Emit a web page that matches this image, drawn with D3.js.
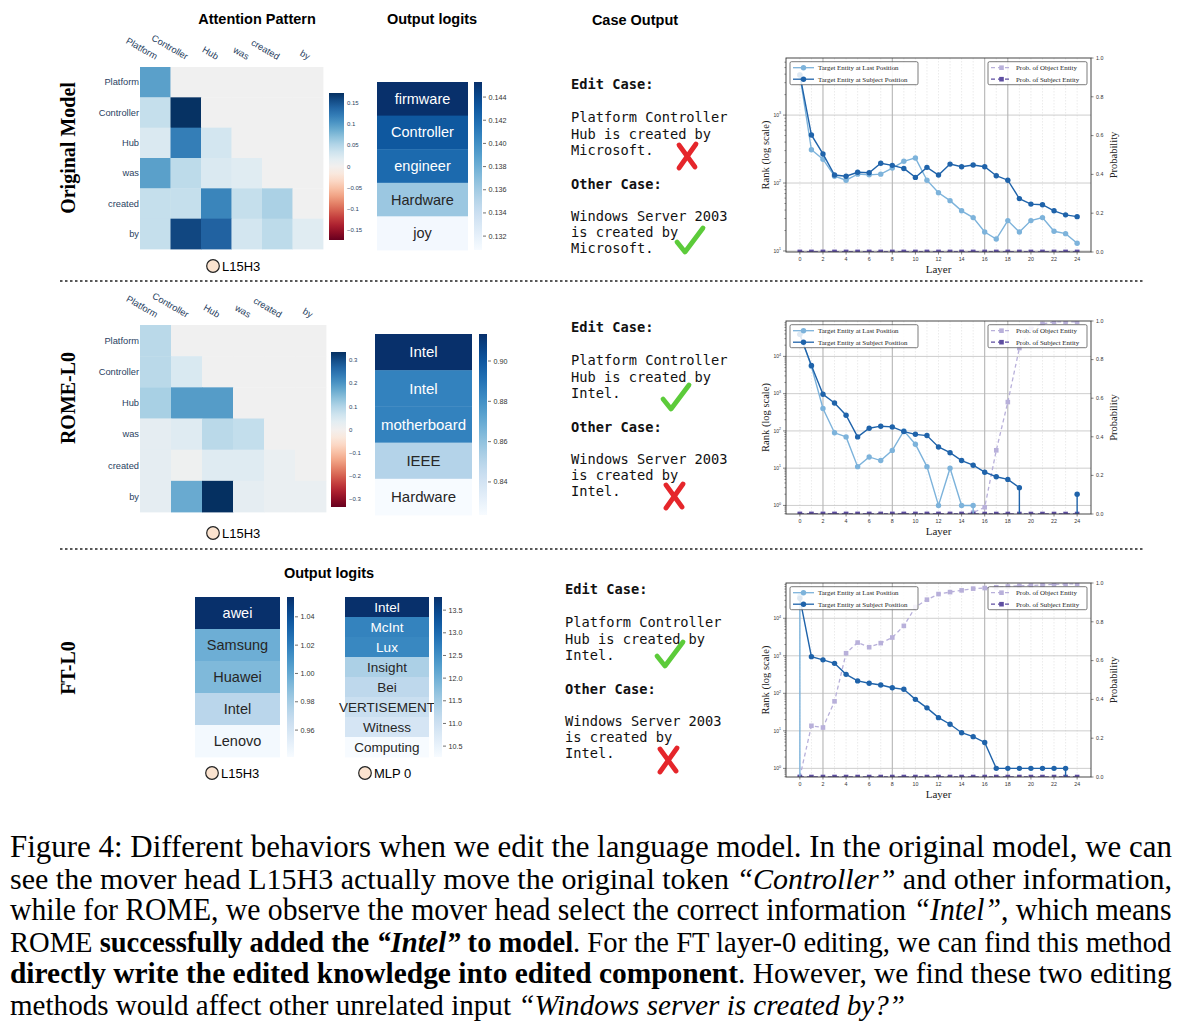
<!DOCTYPE html>
<html>
<head>
<meta charset="utf-8">
<script src="https://cdn.jsdelivr.net/npm/d3@7"></script>
<style>
  body { margin: 0; background: #fff; }
  svg { display: block; }
  text { white-space: pre; }
</style>
</head>
<body>
<div id="fig"></div>
<script>
// ---- data ----
const tokens = ['Platform', 'Controller', 'Hub', 'was', 'created', 'by'];

// lower-triangular attention patterns of L15H3 (row = query, col = key)
const attnOriginal = [
  [0.095],
  [0.04, 0.172],
  [0.025, 0.12, 0.03],
  [0.095, 0.045, 0.025, 0.02],
  [0.04, 0.04, 0.115, 0.04, 0.055],
  [0.04, 0.158, 0.14, 0.03, 0.045, 0.02]
];
const attnOriginalTicks = [0.15, 0.1, 0.05, 0, -0.05, -0.1, -0.15];
const attnRome = [
  [0.09],
  [0.09, 0.05],
  [0.11, 0.19, 0.19],
  [0.03, 0.04, 0.09, 0.08],
  [0.03, 0.01, 0.04, 0.04, 0.02],
  [0.03, 0.17, 0.336, 0.03, 0.02, 0.02]
];
const attnRomeTicks = [0.3, 0.2, 0.1, 0, -0.1, -0.2, -0.3];

const logitsOrigLabels = ['firmware', 'Controller', 'engineer', 'Hardware', 'joy'];
const logitsOrigValues = [0.1453, 0.1431, 0.1421, 0.1363, 0.1311];
const logitsOrigTicks = [0.144, 0.142, 0.140, 0.138, 0.136, 0.134, 0.132];

const logitsRomeLabels = ['Intel', 'Intel', 'motherboard', 'IEEE', 'Hardware'];
const logitsRomeValues = [0.9134, 0.885, 0.885, 0.851, 0.8236];
const logitsRomeTicks = [0.90, 0.88, 0.86, 0.84];

const logitsFtHeadLabels = ['awei', 'Samsung', 'Huawei', 'Intel', 'Lenovo'];
const logitsFtHeadValues = [1.054, 0.9975, 0.992, 0.973, 0.943];
const logitsFtHeadTicks = [1.04, 1.02, 1.00, 0.98, 0.96];

const logitsFtMlpLabels = ['Intel', 'McInt', 'Lux', 'Insight', 'Bei', 'VERTISEMENT', 'Witness', 'Computing'];
const logitsFtMlpValues = [13.79, 12.66, 12.59, 11.42, 11.21, 11.04, 10.86, 10.26];
const logitsFtMlpTicks = [13.5, 13.0, 12.5, 12.0, 11.5, 11.0, 10.5];

const layers = [0, 1, 2, 3, 4, 5, 6, 7, 8, 9, 10, 11, 12, 13, 14, 15, 16, 17, 18, 19, 20, 21, 22, 23, 24];
const layerTicks = [0, 2, 4, 6, 8, 10, 12, 14, 16, 18, 20, 22, 24];
const probTicks = [0, 0.2, 0.4, 0.6, 0.8, 1.0];

// rank of target entity (0 = below the log axis)
const origLastRank = [3890, 309, 224, 126, 110, 135, 132, 135, 166, 209, 234, 110, 72, 55, 39, 31, 19, 15, 28, 19, 28, 31, 19.5, 18, 13];
const origSubjRank = [3900, 510, 268, 131, 126, 144, 142, 195, 182, 164, 121, 170, 131, 190, 174, 184, 174, 128, 110, 59, 49, 48, 39, 34, 32];
const origObjProb = [0, 0, 0, 0, 0, 0, 0, 0, 0, 0, 0, 0, 0, 0, 0, 0, 0, 0, 0, 0, 0, 0, 0, 0, 0];
const origSubjProb = [0, 0, 0, 0, 0, 0, 0, 0, 0, 0, 0, 0, 0, 0, 0, 0, 0, 0, 0, 0, 0, 0, 0, 0, 0];

const romeLastRank = [39000, 5400, 400, 89, 69, 11, 20, 16, 30, 100, 44, 11, 1, 10, 1, 1, 0, 0, 0, 0, 0, 0, 0, 0, 0];
const romeSubjRank = [39000, 5700, 960, 560, 264, 69, 118, 134, 128, 96, 81, 75, 37, 26, 16, 12, 7.8, 5.9, 5, 3, 0, 0, 0, 0, 2];
const romeObjProb = [0, 0, 0, 0, 0, 0, 0, 0, 0, 0, 0, 0, 0, 0, 0, 0.007, 0.035, 0.33, 0.58, 0.86, 0.96, 0.985, 0.995, 0.995, 0.995];
const romeSubjProb = [0, 0, 0, 0, 0, 0, 0, 0, 0, 0, 0, 0, 0, 0, 0, 0, 0, 0, 0, 0, 0, 0, 0, 0, 0];

const ftLastRank = [38000, 0, 0, 0, 0, 0, 0, 0, 0, 0, 0, 0, 0, 0, 0, 0, 0, 0, 0, 0, 0, 0, 0, 0, 0];
const ftSubjRank = [34000, 950, 780, 630, 320, 214, 185, 167, 141, 128, 69, 41, 22.5, 15, 8.9, 7, 4.9, 1, 1, 1, 1, 1, 1, 1, 0];
const ftObjProb = [0, 0.264, 0.255, 0.39, 0.638, 0.693, 0.669, 0.69, 0.719, 0.779, 0.876, 0.914, 0.943, 0.953, 0.962, 0.971, 0.974, 0.978, 0.982, 0.985, 0.987, 0.99, 0.993, 0.995, 0.996];
const ftSubjProb = [0, 0, 0, 0, 0, 0, 0, 0, 0, 0, 0, 0, 0, 0, 0, 0, 0, 0, 0, 0, 0, 0, 0, 0, 0];

const legendRank = ['Target Entity at Last Position', 'Target Entity at Subject Position'];
const legendProb = ['Prob. of Object Entity', 'Prob. of Subject Entity'];

const caseOriginal = ['Platform Controller', 'Hub is created by', 'Microsoft.', 'Windows Server 2003', 'is created by', 'Microsoft.'];
const caseRome = ['Platform Controller', 'Hub is created by', 'Intel.', 'Windows Server 2003', 'is created by', 'Intel.'];
const caseFt = ['Platform Controller', 'Hub is created by', 'Intel.', 'Windows Server 2003', 'is created by', 'Intel.'];

const captionLines = [
  [['Figure 4: Different behaviors when we edit the language model. In the original model, we can', '']],
  [['see the mover head L15H3 actually move the original token ', ''], ['\u201cController\u201d', 'i'], [' and other information,', '']],
  [['while for ROME, we observe the mover head select the correct information ', ''], ['\u201cIntel\u201d', 'i'], [', which means', '']],
  [['ROME ', ''], ['successfully added the ', 'b'], ['\u201cIntel\u201d', 'bi'], [' to model', 'b'], ['. For the FT layer-0 editing, we can find this method', '']],
  [['directly write the edited knowledge into edited component', 'b'], ['. However, we find these two editing', '']],
  [['methods would affect other unrelated input ', ''], ['\u201cWindows server is created by?\u201d', 'i']]
];

// ---- styles ----
const sans = "'Liberation Sans', Arial, Helvetica, sans-serif";
const serif = "'Liberation Serif', 'Times New Roman', serif";
const mono = "'DejaVu Sans Mono', monospace";
const plotlyText = '#2a3f5f';
const lightBlue = '#7db3db',
  darkBlue = '#1f63aa',
  lightPurple = '#b8b0da',
  darkPurple = '#5e4ea1';

const svg = d3.select('#fig').append('svg')
  .attr('width', 1200)
  .attr('height', 1032);
svg.append('rect').attr('width', 1200).attr('height', 1032).attr('fill', '#fff');
const defs = svg.append('defs');
let gradId = 0;

function vGradient(interp) {
  const id = 'grad' + (gradId++);
  const lg = defs.append('linearGradient').attr('id', id)
    .attr('x1', 0).attr('y1', 1).attr('x2', 0).attr('y2', 0);
  d3.range(0, 1.0001, 0.05).forEach(t => {
    lg.append('stop').attr('offset', t).attr('stop-color', interp(t));
  });
  return 'url(#' + id + ')';
}

// ---- section titles ----
function title(x, y, txt) {
  svg.append('text').attr('x', x).attr('y', y).attr('text-anchor', 'middle')
    .attr('font-family', sans).attr('font-weight', 'bold').attr('font-size', 14.5)
    .attr('fill', '#000').text(txt);
}
title(257, 24, 'Attention Pattern');
title(432, 24, 'Output logits');
title(635, 25, 'Case Output');
title(329, 578, 'Output logits');

function rowTitle(cx, cy, txt) {
  svg.append('text')
    .attr('transform', 'translate(' + cx + ',' + cy + ') rotate(-90)')
    .attr('text-anchor', 'middle').attr('dy', '0.35em')
    .attr('font-family', serif).attr('font-weight', 'bold').attr('font-size', 20)
    .text(txt);
}
rowTitle(68, 148, 'Original Model');
rowTitle(68, 398, 'ROME-L0');
rowTitle(68, 668, 'FT-L0');

[281, 549].forEach(y => {
  svg.append('line').attr('x1', 60).attr('x2', 1145).attr('y1', y).attr('y2', y)
    .attr('stroke', '#222').attr('stroke-width', 1.5).attr('stroke-dasharray', '2.5,2.5');
});

// ---- attention heatmaps ----
function drawAttention(opt) {
  const g = svg.append('g');
  const xs = d3.scaleBand().domain(tokens).range([opt.x, opt.x + opt.w]);
  const ys = d3.scaleBand().domain(tokens).range([opt.y, opt.y + opt.h]);
  const col = v => d3.interpolateRdBu((v + opt.max) / (2 * opt.max));
  const cells = [];
  tokens.forEach((r, i) => tokens.forEach((c, j) => {
    cells.push({ r: r, c: c, v: j <= i ? opt.data[i][j] : null });
  }));
  g.selectAll('rect.cell').data(cells).join('rect')
    .attr('x', d => xs(d.c)).attr('y', d => ys(d.r))
    .attr('width', xs.bandwidth() + 0.4).attr('height', ys.bandwidth() + 0.4)
    .attr('fill', d => d.v === null ? '#f0f0f0' : col(d.v));

  g.selectAll('text.row').data(tokens).join('text')
    .attr('x', opt.x - 1).attr('y', d => ys(d) + ys.bandwidth() / 2)
    .attr('dy', '0.35em').attr('text-anchor', 'end')
    .attr('font-family', sans).attr('font-size', 9.3).attr('fill', plotlyText)
    .text(d => d);
  g.selectAll('text.col').data(tokens).join('text')
    .attr('transform', d => 'translate(' + (xs(d) + xs.bandwidth() / 2) + ',' + (opt.y - 7) + ') rotate(30)')
    .attr('text-anchor', 'end')
    .attr('font-family', sans).attr('font-size', 9.3).attr('fill', plotlyText)
    .text(d => d);

  // colorbar
  const cb = opt.cb;
  const cs = d3.scaleLinear().domain([-opt.max, opt.max]).range([cb.y + cb.h, cb.y]);
  g.append('rect').attr('x', cb.x).attr('y', cb.y).attr('width', cb.w).attr('height', cb.h)
    .attr('fill', vGradient(d3.interpolateRdBu));
  g.selectAll('text.cbt').data(opt.ticks).join('text')
    .attr('x', cb.x + cb.w + 3).attr('y', d => cs(d)).attr('dy', '0.35em')
    .attr('font-family', sans).attr('font-size', 6).attr('fill', plotlyText)
    .text(d => d3.format('~g')(d).replace('-', '\u2212'));
}

drawAttention({ x: 140, y: 67, w: 183, h: 182, data: attnOriginal, max: 0.173,
  cb: { x: 329, y: 93, w: 15, h: 147 }, ticks: attnOriginalTicks });
drawAttention({ x: 140, y: 325, w: 186, h: 187, data: attnRome, max: 0.336,
  cb: { x: 331, y: 352, w: 15, h: 155 }, ticks: attnRomeTicks });

// ---- output logits ----
function drawLogits(opt) {
  const g = svg.append('g');
  const idx = opt.labels.map((d, i) => i);
  const ys = d3.scaleBand().domain(idx).range([opt.y, opt.y + opt.h]);
  const ct = d3.scaleLinear().domain([opt.vmin, opt.vmax]).range([0, 1]).clamp(true);
  const col = v => d3.interpolateBlues(ct(v));
  g.selectAll('rect.cell').data(idx).join('rect')
    .attr('x', opt.x).attr('y', i => ys(i))
    .attr('width', opt.w).attr('height', ys.bandwidth() + 0.4)
    .attr('fill', i => col(opt.values[i]));
  g.selectAll('text.lab').data(idx).join('text')
    .attr('x', opt.x + opt.w / 2).attr('y', i => ys(i) + ys.bandwidth() / 2)
    .attr('dy', '0.35em').attr('text-anchor', 'middle')
    .attr('font-family', sans).attr('font-size', opt.fs)
    .attr('fill', i => d3.lab(col(opt.values[i])).l < 60 ? '#fff' : '#262626')
    .text(i => opt.labels[i]);

  const cs = d3.scaleLinear().domain([opt.vmin, opt.vmax]).range([opt.y + opt.h, opt.y]);
  g.append('rect').attr('x', opt.cbx).attr('y', opt.y).attr('width', opt.cbw).attr('height', opt.h)
    .attr('fill', vGradient(d3.interpolateBlues));
  const t = g.selectAll('g.tick').data(opt.ticks).join('g')
    .attr('transform', d => 'translate(' + (opt.cbx + opt.cbw) + ',' + cs(d) + ')');
  t.append('line').attr('x1', 1).attr('x2', 4).attr('stroke', '#333').attr('stroke-width', 0.7);
  t.append('text').attr('x', 6.5).attr('dy', '0.35em')
    .attr('font-family', sans).attr('font-size', 7.2).attr('fill', '#333')
    .text(d => d3.format(opt.fmt)(d));
}

drawLogits({ x: 377, y: 82, w: 91, h: 168, labels: logitsOrigLabels, values: logitsOrigValues,
  vmin: 0.1308, vmax: 0.1453, cbx: 474, cbw: 8, ticks: logitsOrigTicks, fmt: '.3f', fs: 14.5 });
drawLogits({ x: 375, y: 334, w: 97, h: 181, labels: logitsRomeLabels, values: logitsRomeValues,
  vmin: 0.8236, vmax: 0.9134, cbx: 479, cbw: 8, ticks: logitsRomeTicks, fmt: '.2f', fs: 15 });
drawLogits({ x: 195, y: 597, w: 85, h: 160, labels: logitsFtHeadLabels, values: logitsFtHeadValues,
  vmin: 0.941, vmax: 1.054, cbx: 287, cbw: 7, ticks: logitsFtHeadTicks, fmt: '.2f', fs: 14.5 });
drawLogits({ x: 345, y: 597, w: 84, h: 160, labels: logitsFtMlpLabels, values: logitsFtMlpValues,
  vmin: 10.26, vmax: 13.79, cbx: 434, cbw: 8, ticks: logitsFtMlpTicks, fmt: '.1f', fs: 13.5 });

// component tags
function tag(cx, cy, txt) {
  svg.append('circle').attr('cx', cx).attr('cy', cy).attr('r', 6.3)
    .attr('fill', '#fbe3cf').attr('stroke', '#222').attr('stroke-width', 1.2);
  svg.append('text').attr('x', cx + 9).attr('y', cy).attr('dy', '0.36em')
    .attr('font-family', sans).attr('font-size', 13).text(txt);
}
tag(213, 266, 'L15H3');
tag(213, 533, 'L15H3');
tag(212, 773, 'L15H3');
tag(365, 773, 'MLP 0');

// ---- case output ----
function caseBlock(x, y0, lines) {
  const g = svg.append('g').attr('font-family', mono).attr('font-size', 13.7).attr('fill', '#111');
  g.append('text').attr('x', x).attr('y', y0 + 5).attr('font-weight', 'bold').text('Edit Case:');
  [33, 49.5, 66].forEach((dy, i) => g.append('text').attr('x', x).attr('y', y0 + 5 + dy).text(lines[i]));
  g.append('text').attr('x', x).attr('y', y0 + 105).attr('font-weight', 'bold').text('Other Case:');
  [131.5, 147.5, 164].forEach((dy, i) => g.append('text').attr('x', x).attr('y', y0 + 5 + dy).text(lines[i + 3]));
}
caseBlock(571, 84, caseOriginal);
caseBlock(571, 327, caseRome);
caseBlock(565, 589, caseFt);

function cross(cx, cy) {
  const g = svg.append('g').attr('transform', 'translate(' + cx + ',' + cy + ')')
    .attr('stroke', '#e5262b').attr('stroke-width', 4.8).attr('stroke-linecap', 'round');
  g.append('line').attr('x1', -8).attr('y1', -11).attr('x2', 8).attr('y2', 11);
  g.append('line').attr('x1', 9).attr('y1', -12).attr('x2', -8).attr('y2', 12);
}
function check(cx, cy) {
  svg.append('path')
    .attr('d', 'M' + (cx - 13) + ',' + (cy + 2) + 'L' + (cx - 5) + ',' + (cy + 12) + 'L' + (cx + 13) + ',' + (cy - 12))
    .attr('fill', 'none').attr('stroke', '#5ccb3a').attr('stroke-width', 4.8)
    .attr('stroke-linecap', 'round').attr('stroke-linejoin', 'round');
}
cross(687, 156);
check(690, 240);
check(676, 397);
cross(674, 496);
check(670, 654);
cross(668, 760);

// ---- rank / probability line charts ----
const x = d3.scaleLinear().domain([-1.2, 25.2]).range([786, 1091]);
const markLayers = [2, 8, 16, 18];
let clipId = 0;

function drawRankChart(opt) {
  const top = opt.top, bottom = opt.bottom, left = 786, right = 1091;
  const g = svg.append('g');
  const y = d3.scaleLog().domain(opt.yDomain).range([bottom, top]);
  const p = d3.scaleLinear().domain([0, 1]).range([bottom, top]);
  const yv = v => v > 0 ? y(v) : bottom + 1e5;
  const cid = 'clip' + (clipId++);
  defs.append('clipPath').attr('id', cid).append('rect')
    .attr('x', left).attr('y', top).attr('width', right - left).attr('height', bottom - top);

  // grid
  const grid = g.append('g');
  grid.selectAll('line.vg').data(layers).join('line')
    .attr('x1', d => x(d)).attr('x2', d => x(d)).attr('y1', top).attr('y2', bottom)
    .attr('stroke', d => markLayers.includes(d) ? '#8a8a8a' : '#d6d6d6')
    .attr('stroke-width', d => markLayers.includes(d) ? 0.7 : 0.5)
    .attr('stroke-dasharray', d => markLayers.includes(d) ? null : '1.5,1.5');
  grid.selectAll('line.hg').data(opt.decades).join('line')
    .attr('x1', left).attr('x2', right).attr('y1', d => y(Math.pow(10, d))).attr('y2', d => y(Math.pow(10, d)))
    .attr('stroke', '#b8b8b8').attr('stroke-width', 0.7);

  const plot = g.append('g').attr('clip-path', 'url(#' + cid + ')');
  const rankLine = d3.line().x((d, i) => x(layers[i])).y(d => yv(d));
  const probLine = d3.line().x((d, i) => x(layers[i])).y(d => p(d));

  // probabilities (right axis)
  [[opt.objProb, lightPurple], [opt.subjProb, darkPurple]].forEach(([vals, c]) => {
    plot.append('path').attr('d', probLine(vals)).attr('fill', 'none')
      .attr('stroke', c).attr('stroke-width', 1.3).attr('stroke-dasharray', '4,3');
    plot.selectAll(null).data(vals).join('rect')
      .attr('x', (d, i) => x(layers[i]) - 2.3).attr('y', d => p(d) - 2.3)
      .attr('width', 4.6).attr('height', 4.6).attr('fill', c);
  });
  // ranks (left axis)
  [[opt.lastRank, lightBlue], [opt.subjRank, darkBlue]].forEach(([vals, c]) => {
    plot.append('path').attr('d', rankLine(vals)).attr('fill', 'none')
      .attr('stroke', c).attr('stroke-width', 1.4);
    plot.selectAll(null).data(vals.map((v, i) => [layers[i], v]).filter(d => d[1] > 0)).join('circle')
      .attr('cx', d => x(d[0])).attr('cy', d => y(d[1])).attr('r', 2.7).attr('fill', c);
  });

  // frame
  g.append('rect').attr('x', left).attr('y', top).attr('width', right - left).attr('height', bottom - top)
    .attr('fill', 'none').attr('stroke', '#333').attr('stroke-width', 0.9);

  // x axis
  const xt = g.selectAll('g.xt').data(layerTicks).join('g')
    .attr('transform', d => 'translate(' + x(d) + ',' + bottom + ')');
  xt.append('line').attr('y2', 2.5).attr('stroke', '#333').attr('stroke-width', 0.6);
  xt.append('text').attr('y', 8.5).attr('text-anchor', 'middle')
    .attr('font-family', sans).attr('font-size', 5.3).attr('fill', '#333').text(d => d);
  g.append('text').attr('x', (left + right) / 2).attr('y', bottom + 21).attr('text-anchor', 'middle')
    .attr('font-family', serif).attr('font-size', 11).attr('fill', '#222').text('Layer');

  // left log axis
  const [lo, hi] = opt.yDomain;
  const minors = [];
  for (let e = Math.floor(Math.log10(lo)); e <= Math.ceil(Math.log10(hi)); e++) {
    for (let m = 2; m <= 9; m++) {
      const v = m * Math.pow(10, e);
      if (v >= lo && v <= hi) minors.push(v);
    }
  }
  g.selectAll('line.ymin').data(minors).join('line')
    .attr('x1', left).attr('x2', left - 1.6).attr('y1', d => y(d)).attr('y2', d => y(d))
    .attr('stroke', '#333').attr('stroke-width', 0.5);
  const yt = g.selectAll('g.yt').data(opt.decades).join('g')
    .attr('transform', d => 'translate(' + left + ',' + y(Math.pow(10, d)) + ')');
  yt.append('line').attr('x2', -3).attr('stroke', '#333').attr('stroke-width', 0.6);
  const ytt = yt.append('text').attr('x', -5).attr('dy', '0.35em').attr('text-anchor', 'end')
    .attr('font-family', sans).attr('font-size', 5).attr('fill', '#333');
  ytt.append('tspan').text('10');
  ytt.append('tspan').attr('dy', -2.5).attr('font-size', 3.6).text(d => d);
  g.append('text')
    .attr('transform', 'translate(765,' + ((top + bottom) / 2) + ') rotate(-90)')
    .attr('text-anchor', 'middle').attr('dy', '0.35em')
    .attr('font-family', serif).attr('font-size', 10.5).attr('fill', '#222').text('Rank (log scale)');

  // right probability axis
  const pt = g.selectAll('g.pt').data(probTicks).join('g')
    .attr('transform', d => 'translate(' + right + ',' + p(d) + ')');
  pt.append('line').attr('x2', 2.5).attr('stroke', '#333').attr('stroke-width', 0.6);
  pt.append('text').attr('x', 5).attr('dy', '0.35em')
    .attr('font-family', sans).attr('font-size', 5.3).attr('fill', '#333').text(d => d3.format('.1f')(d));
  g.append('text')
    .attr('transform', 'translate(1113,' + ((top + bottom) / 2) + ') rotate(-90)')
    .attr('text-anchor', 'middle').attr('dy', '0.35em')
    .attr('font-family', serif).attr('font-size', 10.5).attr('fill', '#222').text('Probability');

  // legends
  function legend(lx, lw, labels, colors, dashed) {
    const lg = g.append('g').attr('transform', 'translate(' + lx + ',' + (top + 3.7) + ')');
    lg.append('rect').attr('width', lw).attr('height', 23).attr('rx', 1.5)
      .attr('fill', '#fff').attr('fill-opacity', 0.85).attr('stroke', '#444').attr('stroke-width', 0.7);
    labels.forEach((lab, i) => {
      const ry = 6 + i * 11.5;
      lg.append('line').attr('x1', 3).attr('x2', 24).attr('y1', ry).attr('y2', ry)
        .attr('stroke', colors[i]).attr('stroke-width', 1.3).attr('stroke-dasharray', dashed ? '4,3' : null);
      if (dashed) {
        lg.append('rect').attr('x', 11.2).attr('y', ry - 2.3).attr('width', 4.6).attr('height', 4.6).attr('fill', colors[i]);
      } else {
        lg.append('circle').attr('cx', 13.5).attr('cy', ry).attr('r', 2.7).attr('fill', colors[i]);
      }
      lg.append('text').attr('x', 28).attr('y', ry).attr('dy', '0.35em')
        .attr('font-family', serif).attr('font-size', 6.9).attr('fill', '#222').text(lab);
    });
  }
  legend(left + 4, 128, legendRank, [lightBlue, darkBlue], false);
  legend(988, 99, legendProb, [lightPurple, darkPurple], true);
}

drawRankChart({ top: 58, bottom: 252, yDomain: [Math.pow(10, 0.985), Math.pow(10, 3.84)], decades: [1, 2, 3],
  lastRank: origLastRank, subjRank: origSubjRank, objProb: origObjProb, subjProb: origSubjProb });
drawRankChart({ top: 321, bottom: 514, yDomain: [Math.pow(10, -0.23), Math.pow(10, 4.95)], decades: [0, 1, 2, 3, 4],
  lastRank: romeLastRank, subjRank: romeSubjRank, objProb: romeObjProb, subjProb: romeSubjProb });
drawRankChart({ top: 583, bottom: 777, yDomain: [Math.pow(10, -0.23), Math.pow(10, 4.94)], decades: [0, 1, 2, 3, 4],
  lastRank: ftLastRank, subjRank: ftSubjRank, objProb: ftObjProb, subjProb: ftSubjProb });

// ---- caption ----
const captionTop = 857, captionStep = 31.6;
captionLines.forEach((parts, li) => {
  const t = svg.append('text').attr('y', 0)
    .attr('font-family', serif).attr('font-size', 30.5).attr('fill', '#000');
  parts.forEach(([s, st]) => {
    t.append('tspan')
      .attr('font-weight', st.includes('b') ? 'bold' : null)
      .attr('font-style', st.includes('i') ? 'italic' : null)
      .text(s);
  });
  const w = t.node().getComputedTextLength();
  const target = li === captionLines.length - 1 ? 895 : 1162;
  t.attr('transform', 'translate(10,' + (captionTop + li * captionStep) + ') scale(' + (target / w) + ',1)');
});
</script>
</body>
</html>
